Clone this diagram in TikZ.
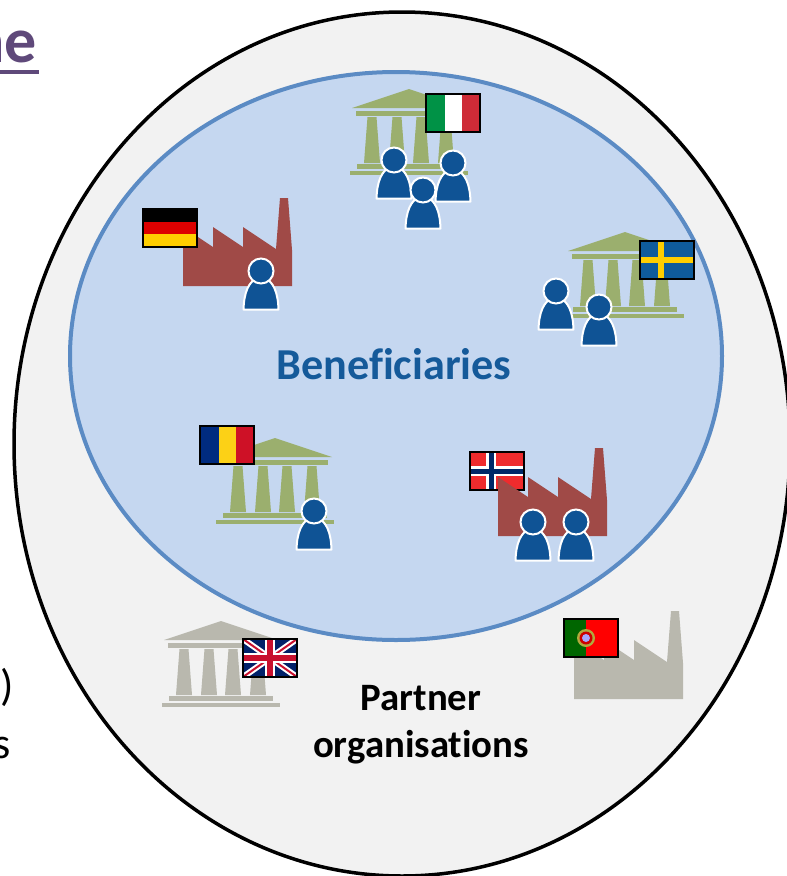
\documentclass[tikz,border=0pt]{standalone}
\usepackage{fontspec}
\setmainfont{Carlito}[Ligatures=NoCommon]

\definecolor{outerfill}{HTML}{F2F2F2}
\definecolor{innerfill}{HTML}{C5D7F0}
\definecolor{innerline}{HTML}{5B8BC4}
\definecolor{beneblue}{HTML}{155A9A}
\definecolor{personblue}{HTML}{0F5395}
\definecolor{templegreen}{HTML}{9BAF6E}
\definecolor{factoryred}{HTML}{A04A47}
\definecolor{partnergrey}{HTML}{B9B8AE}
\definecolor{headingpurple}{HTML}{5F497A}
\definecolor{itgreen}{HTML}{009246}
\definecolor{itred}{HTML}{CE2B37}
\definecolor{robluev}{HTML}{002B7F}
\definecolor{royellow}{HTML}{FCD116}
\definecolor{rored}{HTML}{CE1126}
\definecolor{degold}{HTML}{FFCE00}
\definecolor{dered}{HTML}{DD0000}
\definecolor{seblue}{HTML}{0F5B9B}
\definecolor{nored}{HTML}{EF2B2D}
\definecolor{noblue}{HTML}{002868}
\definecolor{ukblue}{HTML}{012169}
\definecolor{ukred}{HTML}{C8102E}
\definecolor{ptgreen}{HTML}{006600}

\tikzset{
    bigtext/.style={inner sep=0pt, anchor=base, font=\bfseries\fontsize{44.2}{48}\selectfont, text=beneblue},
    partnertext/.style={inner sep=0pt, anchor=base, font=\bfseries\fontsize{38.8}{42}\selectfont, text=black},
    cuttext/.style={inner sep=0pt, anchor=base east, font=\fontsize{44}{46}\selectfont, text=black},
    % apex of the roof is the origin
    pics/temple/.style={code={
        \fill[#1] (-57,19) -- (0,0) -- (57,19) -- cycle;
        \fill[#1] (-53,22) rectangle (53,27);
        \foreach \cx in {-37,-12,12,37}
            \fill[#1] (\cx-4.5,28) -- (\cx+4.5,28) -- (\cx+8,74) -- (\cx-8,74) -- cycle;
        \fill[#1] (-52,75) rectangle (52,80);
        \fill[#1] (-59,82) rectangle (59,86);
    }},
    % bottom left corner is the origin
    pics/factory/.style={code={
        \fill[#1] (0,0) -- (0,-59) -- (30,-39) -- (30,-59) -- (60,-39) -- (60,-59)
            -- (93,-37) -- (97,-88) -- (105,-88) -- (109,-36) -- (109,0) -- cycle;
    }},
    % centre of the head is the origin
    pics/person/.style={code={
        \filldraw[personblue, draw=white, line width=2pt, line join=round]
            (-17.5,38.5) .. controls (-17,21) and (-12,11) .. (-5,8) -- (5,8)
            .. controls (12,11) and (17,21) .. (17.5,38.5) -- cycle;
        \filldraw[personblue, draw=white, line width=2pt] (0,0) circle (12.5);
    }},
    % flags: top left corner is the origin
    pics/flagframe/.style={code={
        \draw[black, line width=2.6pt] (1,1) rectangle (55,39);
    }},
    pics/flagthree/.style n args={3}{code={
        \fill[#1] (1,1) rectangle (20,39);
        \fill[#2] (20,1) rectangle (37,39);
        \fill[#3] (37,1) rectangle (55,39);
        \pic {flagframe};
    }},
    pics/flaggermany/.style={code={
        \fill[black] (1,1) rectangle (55,14);
        \fill[dered] (1,14) rectangle (55,26);
        \fill[degold] (1,26) rectangle (55,39);
        \pic {flagframe};
    }},
    pics/flagsweden/.style={code={
        \fill[seblue] (1,1) rectangle (55,39);
        \fill[degold] (18.7,1) rectangle (25.3,39);
        \fill[degold] (1,16.7) rectangle (55,23.3);
        \pic {flagframe};
    }},
    pics/flagnorway/.style={code={
        \fill[nored] (1,1) rectangle (55,39);
        \fill[white] (17,1) rectangle (27,39);
        \fill[white] (1,15) rectangle (55,25);
        \fill[noblue] (19.5,1) rectangle (24.5,39);
        \fill[noblue] (1,17.5) rectangle (55,22.5);
        \pic {flagframe};
    }},
    pics/flagunion/.style={code={
        \fill[ukblue] (1,1) rectangle (55,39);
        \begin{scope}
            \clip (1,1) rectangle (55,39);
            \draw[white, line width=6pt] (1,1) -- (55,39);
            \draw[white, line width=6pt] (1,39) -- (55,1);
            \draw[ukred, line width=2pt] (1,1) -- (55,39);
            \draw[ukred, line width=2pt] (1,39) -- (55,1);
        \end{scope}
        \fill[white] (23,1) rectangle (33,39);
        \fill[white] (1,15) rectangle (55,25);
        \fill[ukred] (25,1) rectangle (31,39);
        \fill[ukred] (1,17) rectangle (55,23);
        \pic {flagframe};
    }},
    pics/flagportugal/.style={code={
        \fill[ptgreen] (1,1) rectangle (23,39);
        \fill[red] (23,1) rectangle (55,39);
        \fill[yellow!65!black] (23,20) circle (9);
        \fill[red!80!black] (23,20) circle (6.5);
        \fill[white!65!blue] (23,20) circle (4);
        \pic {flagframe};
    }},
}

\begin{document}
\begin{tikzpicture}[x=1pt, y=-1pt]
    \useasboundingbox (0,0) rectangle (787,876);
    \clip (0,0) rectangle (787,876);

    % Draw the two circles
    \draw[fill=outerfill, line width=3.5pt] (402,444) ellipse [x radius=388, y radius=432];
    \draw[fill=innerfill, draw=innerline, line width=4pt] (396,356) ellipse [x radius=326, y radius=284];

    % Draw what is left of the text behind the circles
    \node[cuttext, text=headingpurple, font=\bfseries\fontsize{64}{66}\selectfont] (heading) at (37,62) {ne};
    \fill[headingpurple] (0,70) rectangle (38.5,73.5);
    \node[cuttext] (cutparen) at (14,700) {)};
    \node[cuttext] (cuts) at (11,758) {s};

    % Draw the texts
    \node[bigtext] (beneficiaries) at (394,379.5) {Beneficiaries};
    \node[partnertext] (partner) at (421,710) {Partner};
    \node[partnertext] (organisations) at (421,757) {organisations};

    % Italy
    \pic at (409,89) {temple=templegreen};
    \pic at (425,93) {flagthree={itgreen}{white}{itred}};
    \pic at (394,160) {person};
    \pic at (453,163) {person};
    \pic at (423,190) {person};

    % Germany
    \pic at (183,286) {factory=factoryred};
    \pic at (142,208) {flaggermany};
    \pic at (261,271) {person};

    % Sweden
    \pic at (625,232) {temple=templegreen};
    \pic at (639,240) {flagsweden};
    \pic at (556,291) {person};
    \pic at (599,307) {person};

    % Romania
    \pic at (275,438) {temple=templegreen};
    \pic at (199,425) {flagthree={robluev}{royellow}{rored}};
    \pic at (314,511) {person};

    % Norway
    \pic at (469,451) {flagnorway};
    \pic at (498,536) {factory=factoryred};
    \pic at (533,522) {person};
    \pic at (576,522) {person};

    % Partner organisations
    \pic at (221,621) {temple=partnergrey};
    \pic at (242,638) {flagunion};
    \pic at (574,699) {factory=partnergrey};
    \pic at (563,618) {flagportugal};
\end{tikzpicture}
\end{document}
